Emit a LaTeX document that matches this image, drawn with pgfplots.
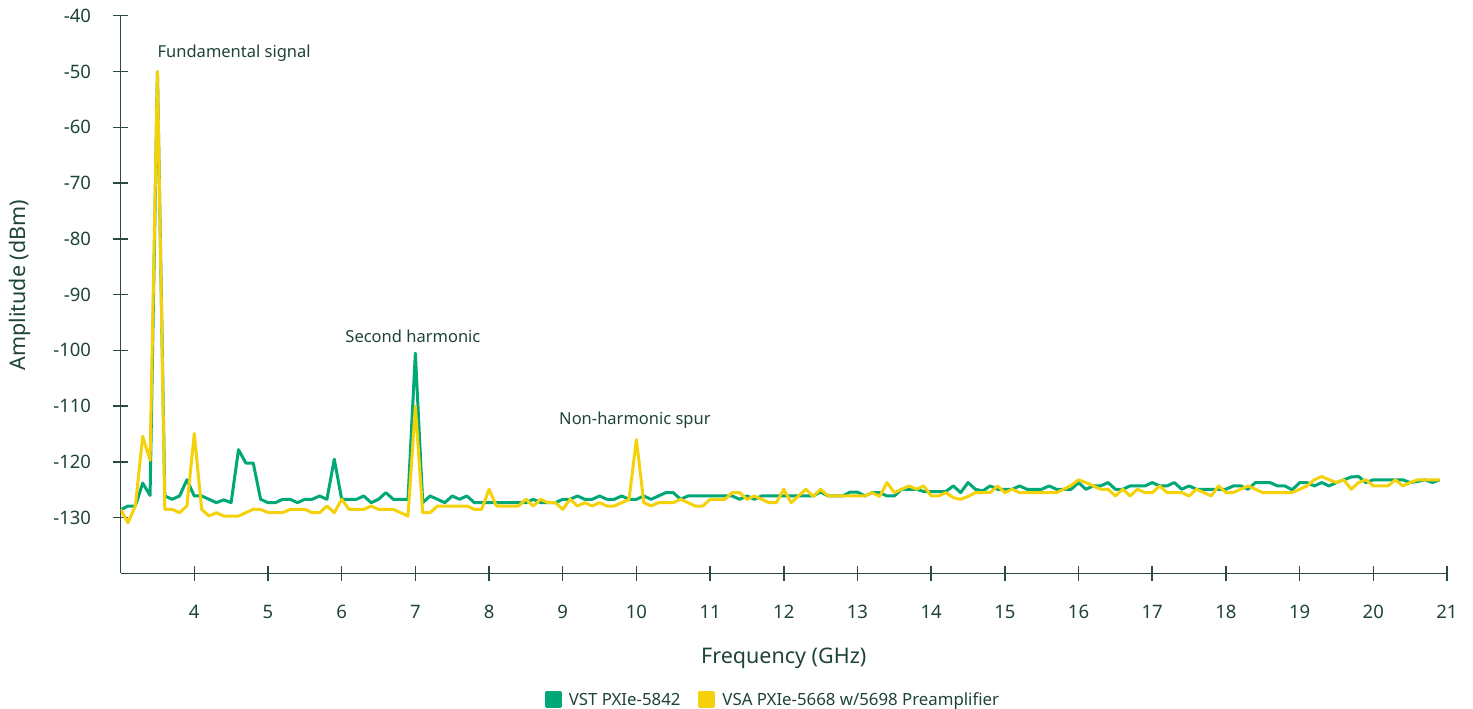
\documentclass[border=0pt]{standalone}
\usepackage{fontspec}
\setmainfont{Noto Sans}
\usepackage{pgfplots}
\pgfplotsset{compat=1.18}
\usepackage{pgfplotstable}
\definecolor{vst}{HTML}{00A878}
\definecolor{vsa}{HTML}{F5D10A}
\definecolor{ink}{HTML}{1E4436}
\definecolor{axc}{HTML}{2B4A3F}

\pgfplotstableread{
f v
3.0 -128.6
3.1 -127.9
3.2 -127.9
3.3 -123.8
3.4 -126.0
3.5 -50.0
3.6 -126.1
3.7 -126.7
3.8 -126.1
3.9 -123.2
4.0 -126.1
4.1 -126.1
4.2 -126.7
4.3 -127.3
4.4 -126.8
4.5 -127.3
4.6 -117.8
4.7 -120.2
4.8 -120.2
4.9 -126.7
5.0 -127.3
5.1 -127.3
5.2 -126.7
5.3 -126.7
5.4 -127.3
5.5 -126.7
5.6 -126.7
5.7 -126.1
5.8 -126.7
5.9 -119.5
6.0 -126.7
6.1 -126.7
6.2 -126.7
6.3 -126.1
6.4 -127.3
6.5 -126.7
6.6 -125.5
6.7 -126.7
6.8 -126.7
6.9 -126.7
7.0 -100.5
7.1 -127.3
7.2 -126.1
7.3 -126.7
7.4 -127.3
7.5 -126.1
7.6 -126.7
7.7 -126.1
7.8 -127.3
7.9 -127.3
8.0 -127.3
8.1 -127.3
8.2 -127.3
8.3 -127.3
8.4 -127.3
8.5 -127.3
8.6 -126.7
8.7 -127.3
8.8 -127.3
8.9 -127.3
9.0 -126.7
9.1 -126.7
9.2 -126.1
9.3 -126.7
9.4 -126.7
9.5 -126.1
9.6 -126.7
9.7 -126.7
9.8 -126.1
9.9 -126.7
10.0 -126.7
10.1 -126.1
10.2 -126.7
10.3 -126.1
10.4 -125.5
10.5 -125.5
10.6 -126.7
10.7 -126.1
10.8 -126.1
10.9 -126.1
11.0 -126.1
11.1 -126.1
11.2 -126.1
11.3 -126.1
11.4 -126.7
11.5 -126.1
11.6 -126.7
11.7 -126.1
11.8 -126.1
11.9 -126.1
12.0 -126.1
12.1 -126.1
12.2 -126.1
12.3 -126.1
12.4 -126.1
12.5 -125.4
12.6 -126.1
12.7 -126.1
12.8 -126.1
12.9 -125.4
13.0 -125.4
13.1 -126.1
13.2 -125.5
13.3 -125.5
13.4 -126.1
13.5 -126.1
13.6 -124.9
13.7 -124.9
13.8 -124.9
13.9 -125.3
14.0 -125.3
14.1 -125.3
14.2 -125.3
14.3 -124.3
14.4 -125.5
14.5 -123.7
14.6 -124.9
14.7 -125.2
14.8 -124.3
14.9 -124.9
15.0 -124.9
15.1 -124.9
15.2 -124.3
15.3 -124.9
15.4 -124.9
15.5 -124.9
15.6 -124.3
15.7 -124.9
15.8 -124.9
15.9 -124.9
16.0 -123.7
16.1 -124.9
16.2 -124.3
16.3 -124.3
16.4 -123.7
16.5 -124.9
16.6 -124.9
16.7 -124.3
16.8 -124.3
16.9 -124.3
17.0 -123.7
17.1 -124.3
17.2 -124.3
17.3 -123.7
17.4 -124.9
17.5 -124.3
17.6 -124.9
17.7 -124.9
17.8 -124.9
17.9 -124.9
18.0 -124.9
18.1 -124.3
18.2 -124.3
18.3 -124.9
18.4 -123.7
18.5 -123.7
18.6 -123.7
18.7 -124.3
18.8 -124.3
18.9 -125.0
19.0 -123.7
19.1 -123.7
19.2 -124.3
19.3 -123.7
19.4 -124.3
19.5 -123.7
19.6 -123.2
19.7 -122.7
19.8 -122.6
19.9 -123.7
20.0 -123.2
20.1 -123.2
20.2 -123.2
20.3 -123.2
20.4 -123.2
20.5 -123.7
20.6 -123.5
20.7 -123.2
20.8 -123.7
20.9 -123.2
}\vstdata

\pgfplotstableread{
f v
3.0 -128.5
3.1 -130.9
3.2 -127.9
3.3 -115.4
3.4 -119.7
3.5 -50.0
3.6 -128.5
3.7 -128.5
3.8 -129.1
3.9 -127.9
4.0 -114.9
4.1 -128.5
4.2 -129.7
4.3 -129.1
4.4 -129.7
4.5 -129.7
4.6 -129.7
4.7 -129.1
4.8 -128.5
4.9 -128.5
5.0 -129.1
5.1 -129.1
5.2 -129.1
5.3 -128.5
5.4 -128.5
5.5 -128.5
5.6 -129.1
5.7 -129.1
5.8 -127.9
5.9 -129.1
6.0 -126.7
6.1 -128.5
6.2 -128.5
6.3 -128.5
6.4 -127.9
6.5 -128.5
6.6 -128.5
6.7 -128.5
6.8 -129.1
6.9 -129.7
7.0 -110.0
7.1 -129.1
7.2 -129.1
7.3 -127.9
7.4 -127.9
7.5 -127.9
7.6 -127.9
7.7 -127.9
7.8 -128.5
7.9 -128.5
8.0 -124.9
8.1 -127.9
8.2 -127.9
8.3 -127.9
8.4 -127.9
8.5 -126.7
8.6 -127.9
8.7 -126.7
8.8 -127.3
8.9 -127.3
9.0 -128.5
9.1 -126.7
9.2 -127.9
9.3 -127.3
9.4 -127.9
9.5 -127.3
9.6 -127.9
9.7 -127.9
9.8 -127.3
9.9 -126.7
10.0 -116.0
10.1 -127.3
10.2 -127.9
10.3 -127.3
10.4 -127.3
10.5 -127.3
10.6 -126.7
10.7 -127.3
10.8 -127.9
10.9 -127.9
11.0 -126.7
11.1 -126.7
11.2 -126.7
11.3 -125.5
11.4 -125.5
11.5 -126.7
11.6 -126.1
11.7 -126.7
11.8 -127.3
11.9 -127.3
12.0 -124.9
12.1 -127.3
12.2 -126.1
12.3 -124.9
12.4 -126.2
12.5 -124.9
12.6 -126.1
12.7 -126.1
12.8 -126.1
12.9 -126.1
13.0 -126.1
13.1 -126.1
13.2 -125.5
13.3 -126.2
13.4 -123.7
13.5 -125.5
13.6 -124.9
13.7 -124.3
13.8 -124.9
13.9 -124.3
14.0 -126.1
14.1 -126.1
14.2 -125.5
14.3 -126.4
14.4 -126.7
14.5 -126.2
14.6 -125.5
14.7 -125.5
14.8 -125.5
14.9 -124.3
15.0 -125.5
15.1 -124.9
15.2 -125.5
15.3 -125.5
15.4 -125.5
15.5 -125.5
15.6 -125.5
15.7 -125.5
15.8 -124.9
15.9 -124.2
16.0 -123.2
16.1 -123.7
16.2 -124.3
16.3 -124.9
16.4 -124.9
16.5 -126.1
16.6 -124.9
16.7 -126.1
16.8 -124.9
16.9 -125.5
17.0 -125.5
17.1 -124.3
17.2 -125.5
17.3 -125.5
17.4 -125.5
17.5 -126.1
17.6 -124.9
17.7 -125.5
17.8 -126.1
17.9 -124.3
18.0 -125.5
18.1 -125.5
18.2 -124.9
18.3 -124.3
18.4 -124.9
18.5 -125.5
18.6 -125.5
18.7 -125.5
18.8 -125.5
18.9 -125.5
19.0 -124.9
19.1 -124.3
19.2 -123.2
19.3 -122.6
19.4 -123.2
19.5 -123.7
19.6 -123.2
19.7 -124.9
19.8 -123.7
19.9 -123.2
20.0 -124.3
20.1 -124.3
20.2 -124.3
20.3 -123.2
20.4 -124.3
20.5 -123.7
20.6 -123.2
20.7 -123.2
20.8 -123.2
20.9 -123.2
}\vsadata

\begin{document}
\begin{tikzpicture}
\path[use as bounding box] (0,0) rectangle (1473pt,709pt);
\begin{axis}[
  at={(120.6pt,135.5pt)}, anchor=south west,
  scale only axis, width=1326.4pt, height=557.8pt,
  xmin=3, xmax=21, ymin=-140, ymax=-40,
  axis x line=bottom, axis y line=left,
  axis line style={-, draw=axc, line width=1.5pt},
  xtick={4,5,...,21}, ytick={-130,-120,...,-40},
  tick style={draw=axc, line width=1.5pt},
  major tick length=15pt, tick align=center,
  /pgf/number format/assume math mode=true,
  ticklabel style={font=\fontsize{18.5}{20}\selectfont, text=ink},
  xticklabel style={yshift=-20.5pt},
  yticklabel style={xshift=-18.5pt},
  xlabel={Frequency (GHz)}, ylabel={Amplitude (dBm)},
  label style={font=\fontsize{21.5}{25}\selectfont, text=ink},
  xlabel style={at={(axis description cs:0.5,-0.1515)}, anchor=center},
  ylabel style={at={(axis description cs:-0.0758,0.517)}, anchor=center},
  legend style={at={(axis description cs:0.4918,-0.2265)}, anchor=center,
    draw=none, fill=none, legend columns=2,
    font=\fontsize{16.8}{19}\selectfont, text=ink,
    /tikz/every odd column/.append style={column sep=5pt},
    /tikz/every even column/.append style={column sep=16pt}},
  legend image code/.code={\fill[#1] (0pt,-7pt) rectangle (14pt,7pt);},
]
\addplot[vst, line width=3pt, line join=round] table[x=f,y=v]{\vstdata};
\addlegendentry{VST PXIe-5842}
\addplot[vsa, line width=3pt, line join=round] table[x=f,y=v]{\vsadata};
\addlegendentry{VSA PXIe-5668 w/5698 Preamplifier}
\node[font=\fontsize{16.5}{18}\selectfont, text=ink, anchor=west, inner sep=0pt] at (axis cs:3.5,-46.8) {Fundamental signal};
\node[font=\fontsize{16.5}{18}\selectfont, text=ink, anchor=center, inner sep=0pt] at (axis cs:6.967,-97.4) {Second harmonic};
\node[font=\fontsize{16.5}{18}\selectfont, text=ink, anchor=center, inner sep=0pt] at (axis cs:9.98,-112.55) {Non-harmonic spur};
\end{axis}
\end{tikzpicture}
\end{document}
